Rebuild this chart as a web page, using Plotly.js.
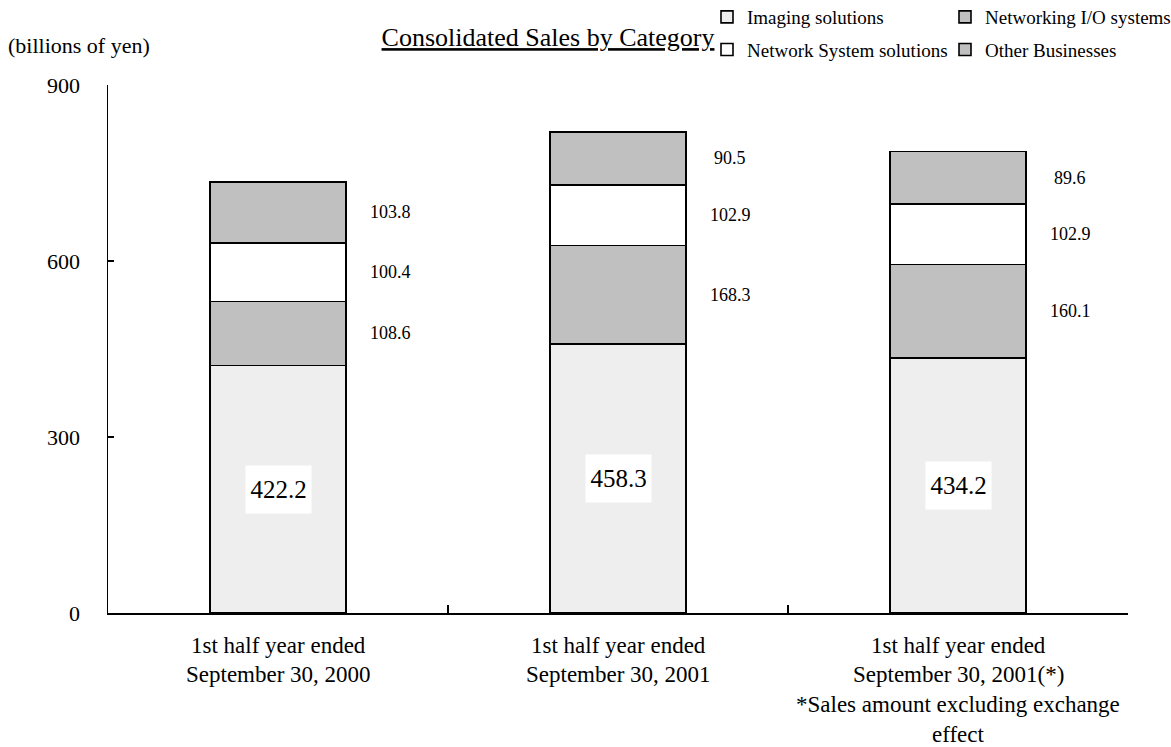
<!DOCTYPE html>
<html>
<head>
<meta charset="utf-8">
<script src="https://cdn.plot.ly/plotly-3.0.1.min.js"></script>
<style>
  html, body { margin: 0; padding: 0; background: #ffffff; }
  #chart { width: 1171px; height: 747px; }
</style>
</head>
<body>
<div id="chart"></div>
<script>
// Consolidated sales by category, billions of yen
const periods = ["H1 FY2000", "H1 FY2001", "H1 FY2001 (excl. FX)"];
const periodLabels = [
  ["1st half year ended", "September 30, 2000"],
  ["1st half year ended", "September 30, 2001"],
  ["1st half year ended", "September 30, 2001(*)", "*Sales amount excluding exchange", "effect"]
];
const seriesNames = ["Imaging solutions", "Networking I/O systems", "Network System solutions", "Other Businesses"];
const imaging = [422.2, 458.3, 434.2];
const networkingIO = [108.6, 168.3, 160.1];
const networkSystem = [100.4, 102.9, 102.9];
const otherBusinesses = [103.8, 90.5, 89.6];
const seriesValues = [imaging, networkingIO, networkSystem, otherBusinesses];
const seriesColors = ["#eeeeee", "#c0c0c0", "#ffffff", "#c0c0c0"];
// two legend columns: left column holds the solutions, right column the rest
const legendColumns = ["legend", "legend2", "legend", "legend2"];
const yTicks = [0, 300, 600, 900];

const serif = "Liberation Serif, Times New Roman, serif";
const W = 1171, H = 747;
const M = { l: 108, r: 43, t: 85, b: 134, autoexpand: false };
const plotW = W - M.l - M.r, plotH = H - M.t - M.b;
// pixel position -> paper fraction
const px = x => (x - M.l) / plotW;
const py = y => 1 - (y - M.t) / plotH;

const traces = seriesNames.map((name, s) => ({
  type: "bar",
  name: name,
  legend: legendColumns[s],
  legendgroup: "g" + s,
  x: periods,
  y: seriesValues[s],
  marker: { color: seriesColors[s], line: { color: "#000000", width: 1.6 } },
  hoverinfo: "skip"
}));

const annotations = [];

// segment labels: the bottom segment gets a boxed label inside the bar,
// the upper segments are labelled to the right of the bar
periods.forEach((p, i) => {
  let base = 0;
  seriesValues.forEach((vals, s) => {
    const v = vals[i];
    const mid = base + v / 2;
    if (s === 0) {
      annotations.push({
        x: p, y: mid, xref: "x", yref: "y",
        text: v.toFixed(1), showarrow: false,
        font: { family: serif, size: 25, color: "#000000" },
        bgcolor: "#ffffff", borderpad: 4, width: 57, height: 39
      });
    } else {
      annotations.push({
        x: p, y: mid, xref: "x", yref: "y",
        text: v.toFixed(1), showarrow: false,
        xshift: 112,
        font: { family: serif, size: 18, color: "#000000" }
      });
    }
    base += v;
  });
});

// category labels, one line at a time for wider line spacing
periodLabels.forEach((lines, i) => {
  lines.forEach((line, k) => {
    annotations.push({
      x: periods[i], y: 0, xref: "x", yref: "y",
      yanchor: "middle", showarrow: false,
      yshift: -32 - 29.7 * k,
      text: line,
      font: { family: serif, size: 23, color: "#000000" }
    });
  });
});

// unit label
annotations.push({
  x: px(6), y: py(45), xref: "paper", yref: "paper",
  xanchor: "left", yanchor: "middle",
  text: "(billions of yen)", showarrow: false,
  font: { family: serif, size: 22, color: "#000000" }
});

const legendFont = { family: serif, size: 19, color: "#000000" };

const layout = {
  width: W,
  height: H,
  margin: M,
  paper_bgcolor: "#ffffff",
  plot_bgcolor: "#ffffff",
  barmode: "stack",
  bargap: 0.6,
  showlegend: true,
  title: {
    text: "<u>Consolidated Sales by Category</u>",
    font: { family: serif, size: 26, color: "#000000" },
    x: 548 / W, xanchor: "center",
    y: 1 - 37 / H, yanchor: "middle"
  },
  legend: {
    orientation: "v",
    traceorder: "grouped",
    tracegroupgap: 5,
    x: px(707), xanchor: "left",
    y: py(-2), yanchor: "top",
    font: legendFont,
    bgcolor: "rgba(0,0,0,0)"
  },
  legend2: {
    orientation: "v",
    traceorder: "grouped",
    tracegroupgap: 5,
    x: px(945), xanchor: "left",
    y: py(-2), yanchor: "top",
    font: legendFont,
    bgcolor: "rgba(0,0,0,0)"
  },
  xaxis: {
    type: "category",
    range: [-0.5, 2.5],
    showticklabels: false,
    tickson: "boundaries",
    ticks: "inside",
    ticklen: 8,
    tickwidth: 1.5,
    tickcolor: "#000000",
    showline: true,
    linecolor: "#000000",
    linewidth: 1.5,
    showgrid: false,
    zeroline: false,
    fixedrange: true
  },
  yaxis: {
    range: [0, 900],
    tickvals: yTicks,
    ticktext: yTicks.map(String),
    ticks: "inside",
    ticklen: 6,
    tickwidth: 1.5,
    tickcolor: "#000000",
    ticklabelstandoff: 22,
    tickfont: { family: serif, size: 22, color: "#000000" },
    showline: true,
    linecolor: "#000000",
    linewidth: 1.5,
    showgrid: false,
    zeroline: false,
    fixedrange: true
  },
  annotations: annotations
};

Plotly.newPlot("chart", traces, layout, { displayModeBar: false, staticPlot: true });
</script>
</body>
</html>
